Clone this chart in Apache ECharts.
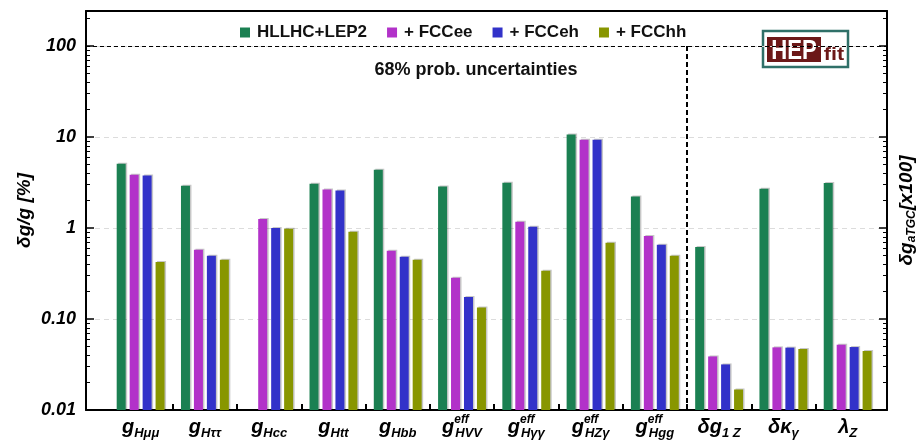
<!DOCTYPE html>
<html>
<head>
<meta charset="utf-8">
<script src="https://cdn.jsdelivr.net/npm/echarts@6/dist/echarts.min.js"></script>
<style>
  html, body { margin: 0; padding: 0; background: #fff; }
  #chart { width: 920px; height: 440px; }
</style>
</head>
<body>
<div id="chart"></div>
<script>
// Coupling labels (rich-text markup: g = main symbol, e = superscript, s = subscript)
const categories = [
  '{g|g}{s|Hμμ}', '{g|g}{s|Hττ}', '{g|g}{s|Hcc}', '{g|g}{s|Htt}', '{g|g}{s|Hbb}',
  '{g|g}{e|eff}{s|HVV}', '{g|g}{e|eff}{s|Hγγ}', '{g|g}{e|eff}{s|HZγ}', '{g|g}{e|eff}{s|Hgg}',
  '{g|δg}{s|1 Z}', '{g|δκ}{s|γ}', '{g|λ}{s|Z}'
];
// Number of Higgs couplings (left block); aTGCs follow
const higgsCount = 9;

// 68% probability uncertainties, in %
const hllhcLep2 = [5.09, 2.92, null, 3.07, 4.37, 2.86, 3.15, 10.7, 2.22, 0.62, 2.70, 3.12];
const fccee     = [3.85, 0.578, 1.26, 2.65, 0.563, 0.284, 1.17, 9.34, 0.82, 0.0388, 0.0488, 0.0522];
const fcceh     = [3.78, 0.497, 1.00, 2.59, 0.484, 0.175, 1.03, 9.34, 0.655, 0.0317, 0.0485, 0.0492];
const fcchh     = [0.423, 0.449, 0.98, 0.91, 0.449, 0.134, 0.34, 0.69, 0.497, 0.0168, 0.0468, 0.0445];

const seriesNames = ['HLLHC+LEP2', '+ FCCee', '+ FCCeh', '+ FCChh'];
const seriesColors = ['#1b8052', '#b232c9', '#3232c9', '#889600'];

// Y scale and tick labels
const yMin = 0.01;
const yMax = 243;
const yTickValues = [0.01, 0.1, 1, 10, 100];
const yTickLabels = ['0.01', '0.10', '1', '10', '100'];

const FONT = '"Liberation Sans", Arial, sans-serif';
const logMin = Math.log10(yMin);
const logMax = Math.log10(yMax);
const majorLog = yTickValues.map(v => Math.log10(v));
const minorLog = [];
yTickValues.forEach(d => {
  for (let k = 2; k <= 9; k++) {
    const lv = Math.log10(k * d);
    if (lv < logMax) minorLog.push(lv);
  }
});
const labelFor = lv => {
  const i = majorLog.findIndex(m => Math.abs(m - lv) < 1e-6);
  return i >= 0 ? yTickLabels[i] : '';
};

const xMin = -0.35, xMax = 12.112;
const xCenters = categories.map((_, i) => i + 0.5);
const xBounds = categories.slice(1).map((_, i) => i + 1);

const chart = echarts.init(document.getElementById('chart'), null, { renderer: 'canvas' });

const axisLineStyle = { color: '#000', width: 2 };
const logSpaceAxis = (pos, extra) => Object.assign({
  type: 'value', position: pos, min: logMin, max: logMax,
  splitLine: { show: false }, axisLabel: { show: false },
  axisLine: { show: false, onZero: false }, axisTick: { show: false }
}, extra);

const labelFont = { fontFamily: FONT, fontWeight: 'bold', fontStyle: 'italic', color: '#000', align: 'left' };

const makeSeries = (name, values, color) => ({
  type: 'bar', name, xAxisIndex: 0, yAxisIndex: 0,
  barWidth: 9, barGap: '44%',
  data: values.map((v, i) => [xCenters[i], v]),
  itemStyle: {
    color,
    shadowColor: 'rgba(0,0,0,0.22)', shadowBlur: 0, shadowOffsetX: 1.5, shadowOffsetY: -1
  },
  emphasis: { disabled: true }
});

// Reference lines: 100% level and the separator between Higgs couplings and aTGCs
const guideSeries = {
  type: 'line', name: 'guides', xAxisIndex: 0, yAxisIndex: 0, data: [], silent: true,
  markLine: {
    silent: true, symbol: 'none', label: { show: false }, animation: false,
    data: [
      { yAxis: 100, lineStyle: { color: '#000', width: 1.2, type: [4, 3] } },
      [
        { coord: [higgsCount, 100], lineStyle: { color: '#000', width: 2, type: [5, 3] } },
        { coord: [higgsCount, yMin] }
      ]
    ]
  }
};

const option = {
  animation: false,
  backgroundColor: '#fff',
  grid: { left: 86, right: 33, top: 11, bottom: 30, containLabel: false, outerBoundsMode: 'none' },
  legend: {
    left: 235, top: 19, icon: 'rect', itemWidth: 10, itemHeight: 10, itemGap: 20,
    data: seriesNames,
    itemStyle: { shadowColor: 'rgba(0,0,0,0)', shadowOffsetX: 0, shadowOffsetY: 0 },
    textStyle: { fontFamily: FONT, fontWeight: 'bold', fontSize: 17, color: '#111', padding: [0, 0, 0, 2] },
    selectedMode: false
  },
  xAxis: [
    {
      type: 'value', position: 'bottom', min: xMin, max: xMax,
      axisLine: { onZero: false, lineStyle: axisLineStyle },
      splitLine: { show: false },
      axisTick: { show: true, inside: true, length: 6, customValues: xBounds, lineStyle: { color: '#000', width: 2 } },
      axisLabel: {
        show: true, margin: 4, customValues: xCenters,
        formatter: v => categories[Math.floor(v)],
        rich: {
          g: Object.assign({ fontSize: 20, lineHeight: 26 }, labelFont),
          s: Object.assign({ fontSize: 13, lineHeight: 12, verticalAlign: 'bottom' }, labelFont),
          e: Object.assign({ fontSize: 12, lineHeight: 12, verticalAlign: 'top', width: 1 }, labelFont)
        }
      }
    },
    {
      type: 'value', position: 'top', min: xMin, max: xMax,
      axisLine: { onZero: false, lineStyle: axisLineStyle },
      splitLine: { show: false }, axisTick: { show: false }, axisLabel: { show: false }
    }
  ],
  yAxis: [
    {
      type: 'log', logBase: 10, min: yMin, max: yMax, startValue: yMin, position: 'left',
      axisLine: { show: false, onZero: false }, axisTick: { show: false }, axisLabel: { show: false },
      splitLine: { show: true, lineStyle: { color: '#dcdcdc', width: 1, type: [5, 4] } }
    },
    logSpaceAxis('left', {
      axisLine: { show: true, onZero: false, lineStyle: axisLineStyle },
      axisTick: { show: true, inside: true, length: 8, customValues: majorLog, lineStyle: { color: '#000', width: 1.5 } },
      axisLabel: {
        show: true, margin: 10, customValues: majorLog, formatter: labelFor,
        fontFamily: FONT, fontWeight: 'bold', fontStyle: 'italic', fontSize: 18, color: '#000'
      },
      name: 'δg/g [%]', nameLocation: 'middle', nameGap: 52, nameRotate: 90, nameMoveOverlap: false,
      nameTextStyle: { fontFamily: FONT, fontWeight: 'bold', fontStyle: 'italic', fontSize: 19, color: '#000' }
    }),
    logSpaceAxis('left', {
      axisTick: { show: true, inside: true, length: 4, customValues: minorLog, lineStyle: { color: '#000', width: 1 } }
    }),
    logSpaceAxis('right', {
      axisLine: { show: true, onZero: false, lineStyle: axisLineStyle },
      axisTick: { show: true, inside: true, length: 8, customValues: majorLog, lineStyle: { color: '#000', width: 1.5 } },
      name: '{d|δg}{a|aTGC}{d|[x100]}', nameLocation: 'middle', nameGap: 9, nameRotate: 90, nameMoveOverlap: false,
      nameTextStyle: {
        rich: {
          d: { fontFamily: FONT, fontWeight: 'bold', fontStyle: 'italic', fontSize: 19, color: '#000', lineHeight: 22, align: 'left' },
          a: { fontFamily: FONT, fontWeight: 'bold', fontStyle: 'italic', fontSize: 12, color: '#000', lineHeight: 10, verticalAlign: 'bottom', align: 'left' }
        }
      }
    }),
    logSpaceAxis('right', {
      axisTick: { show: true, inside: true, length: 4, customValues: minorLog, lineStyle: { color: '#000', width: 1 } }
    })
  ],
  graphic: [
    {
      type: 'text', x: 476, y: 70, silent: true,
      style: {
        text: '68% prob. uncertainties', fill: '#111', align: 'center', verticalAlign: 'middle',
        fontFamily: FONT, fontWeight: 'bold', fontSize: 18
      }
    },
    {
      type: 'group', x: 763, y: 31, silent: true,
      children: [
        { type: 'rect', shape: { x: 0, y: 0, width: 85, height: 36 }, style: { fill: '#fff', stroke: '#2f7068', lineWidth: 2.5 } },
        { type: 'rect', shape: { x: 4, y: 6, width: 54, height: 25 }, style: { fill: '#6c1818' } },
        {
          type: 'text', x: 31, y: 21, scaleX: 0.82,
          style: { text: 'HEP', fill: '#fff', align: 'center', verticalAlign: 'middle', fontFamily: FONT, fontWeight: 'bold', fontSize: 27 }
        },
        {
          type: 'text', x: 71, y: 24, scaleX: 1.2,
          style: { text: 'fit', fill: '#6c1818', align: 'center', verticalAlign: 'middle', fontFamily: FONT, fontWeight: 'bold', fontSize: 18 }
        }
      ]
    }
  ],
  series: [
    makeSeries(seriesNames[0], hllhcLep2, seriesColors[0]),
    makeSeries(seriesNames[1], fccee, seriesColors[1]),
    makeSeries(seriesNames[2], fcceh, seriesColors[2]),
    makeSeries(seriesNames[3], fcchh, seriesColors[3]),
    guideSeries
  ]
};

chart.setOption(option);
</script>
</body>
</html>
